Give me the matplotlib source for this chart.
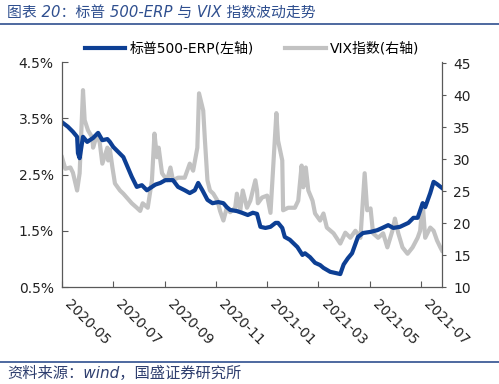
import matplotlib
matplotlib.use("Agg")
import matplotlib.pyplot as plt
import matplotlib.dates as mdates
import pandas as pd
from matplotlib.lines import Line2D

plt.rcParams["font.family"] = ["DejaVu Sans", "Noto Sans CJK SC"]

# S&P 500 ERP (%), left axis
erp_dates = [
    "2020-05-17", "2020-05-24", "2020-05-30", "2020-06-04", "2020-06-05", "2020-06-07",
    "2020-06-11", "2020-06-16", "2020-06-23", "2020-06-29", "2020-07-04", "2020-07-10",
    "2020-07-13", "2020-07-17", "2020-07-23", "2020-07-29", "2020-08-02", "2020-08-08",
    "2020-08-14", "2020-08-20", "2020-08-26", "2020-08-30", "2020-09-05", "2020-09-11",
    "2020-09-17", "2020-09-26", "2020-10-02", "2020-10-10", "2020-10-16", "2020-10-22",
    "2020-10-26", "2020-10-31", "2020-11-06", "2020-11-12", "2020-11-19", "2020-11-25",
    "2020-11-29", "2020-12-03", "2020-12-11", "2020-12-17", "2020-12-24", "2020-12-30",
    "2021-01-04", "2021-01-08", "2021-01-14", "2021-01-20", "2021-01-26", "2021-01-29",
    "2021-02-03", "2021-02-06", "2021-02-12", "2021-02-21", "2021-02-27", "2021-03-02",
    "2021-03-08", "2021-03-14", "2021-03-20", "2021-03-24", "2021-04-01", "2021-04-07",
    "2021-04-13", "2021-04-17", "2021-04-22", "2021-04-27", "2021-05-04", "2021-05-10",
    "2021-05-19", "2021-05-27", "2021-06-02", "2021-06-09", "2021-06-15", "2021-06-23",
    "2021-07-03", "2021-07-09", "2021-07-14", "2021-07-20", "2021-07-23", "2021-07-29",
    "2021-08-02", "2021-08-06", "2021-08-12",
]
erp_values = [
    3.43, 3.35, 3.26, 3.17, 2.88, 2.79,
    3.17, 3.08, 3.15, 3.24, 3.11, 3.13,
    3.08, 2.99, 2.90, 2.81, 2.67, 2.46,
    2.28, 2.31, 2.22, 2.26, 2.32, 2.35,
    2.40, 2.40, 2.28, 2.22, 2.17, 2.22,
    2.35, 2.22, 2.05, 1.99, 2.01, 1.99,
    1.92, 1.87, 1.85, 1.82, 1.78, 1.82,
    1.80, 1.57, 1.55, 1.57, 1.64, 1.64,
    1.55, 1.39, 1.34, 1.21, 1.07, 1.10,
    1.03, 0.93, 0.89, 0.84, 0.77, 0.75,
    0.73, 0.90, 1.01, 1.10, 1.39, 1.46,
    1.48, 1.51, 1.55, 1.60, 1.55, 1.57,
    1.64, 1.73, 1.73, 1.99, 1.92, 2.17,
    2.37, 2.33, 2.26,
]

# VIX index, right axis
vix_dates = [
    "2020-05-17", "2020-05-21", "2020-05-27", "2020-05-30", "2020-06-04", "2020-06-07",
    "2020-06-11", "2020-06-13", "2020-06-17", "2020-06-22", "2020-06-23", "2020-06-28",
    "2020-07-01", "2020-07-04", "2020-07-10", "2020-07-11", "2020-07-13", "2020-07-16",
    "2020-07-19", "2020-07-25", "2020-07-29", "2020-08-02", "2020-08-08", "2020-08-14",
    "2020-08-18", "2020-08-21", "2020-08-27", "2020-09-01", "2020-09-04", "2020-09-07",
    "2020-09-09", "2020-09-13", "2020-09-19", "2020-09-23", "2020-09-26", "2020-10-02",
    "2020-10-10", "2020-10-16", "2020-10-20", "2020-10-25", "2020-10-27", "2020-11-01",
    "2020-11-03", "2020-11-06", "2020-11-09", "2020-11-13", "2020-11-18", "2020-11-21",
    "2020-11-25", "2020-11-29", "2020-12-03", "2020-12-09", "2020-12-11", "2020-12-15",
    "2020-12-18", "2020-12-23", "2020-12-27", "2021-01-02", "2021-01-04", "2021-01-05",
    "2021-01-10", "2021-01-16", "2021-01-20", "2021-01-27", "2021-01-29", "2021-02-03",
    "2021-02-04", "2021-02-10", "2021-02-18", "2021-02-22", "2021-02-26", "2021-02-28",
    "2021-03-03", "2021-03-06", "2021-03-11", "2021-03-14", "2021-03-20", "2021-03-24",
    "2021-03-28", "2021-04-05", "2021-04-13", "2021-04-19", "2021-04-25", "2021-05-01",
    "2021-05-07", "2021-05-12", "2021-05-15", "2021-05-19", "2021-05-22", "2021-05-28",
    "2021-06-03", "2021-06-08", "2021-06-14", "2021-06-17", "2021-06-21", "2021-06-26",
    "2021-07-02", "2021-07-08", "2021-07-14", "2021-07-17", "2021-07-20", "2021-07-23",
    "2021-07-29", "2021-08-02", "2021-08-06", "2021-08-10", "2021-08-12",
]
vix_values = [
    30.3, 28.5, 28.7, 27.9, 25.1, 27.8,
    40.8, 36.1, 34.5, 33.4, 31.8, 34.0,
    32.5, 29.3, 31.8, 29.8, 31.5, 28.7,
    26.2, 25.1, 24.6, 24.0, 23.1, 22.4,
    21.9, 23.1, 22.4, 26.7, 34.0, 30.3,
    31.8, 27.8, 26.7, 28.7, 26.7, 27.1,
    27.1, 29.3, 28.2, 31.8, 40.3, 37.6,
    33.0, 26.7, 25.1, 24.6, 23.5, 21.9,
    20.4, 22.4, 21.7, 22.4, 24.6, 21.9,
    25.1, 22.4, 23.5, 26.7, 25.1, 23.1,
    24.0, 24.3, 21.6, 37.2, 32.9, 29.8,
    22.0, 22.4, 22.4, 23.5, 29.0, 25.6,
    28.7, 25.1, 23.5, 21.5, 20.4, 21.5,
    19.3, 18.4, 16.8, 18.5, 17.7, 18.8,
    17.7, 27.8, 22.0, 22.3, 18.4, 17.7,
    18.4, 16.2, 18.8, 20.7, 18.4, 16.2,
    15.2, 16.2, 17.7, 18.8, 23.1, 17.7,
    19.3, 18.8, 17.3, 16.2, 15.7,
]

tick_dates = ["2020-05-17", "2020-07-17", "2020-09-16", "2020-11-16",
              "2021-01-16", "2021-03-18", "2021-05-18", "2021-07-18"]

title_text = "图表 20：标普 500-ERP 与 VIX 指数波动走势"
source_text = "资料来源：wind，国盛证券研究所"
erp_label = "标普500-ERP(左轴)"
vix_label = "VIX指数(右轴)"

blue = "#0d3f94"
grey = "#c2c2c2"
axis_color = "#595959"
head_color = "#2f4f8f"

erp_x = pd.to_datetime(erp_dates)
vix_x = pd.to_datetime(vix_dates)

fig = plt.figure(figsize=(4.99, 3.84), dpi=100)
ax = fig.add_axes([0.1242, 0.2526, 0.7616, 0.5859])
ax2 = ax.twinx()

ax2.plot(vix_x, vix_values, color=grey, lw=3, solid_joinstyle="round")
ax.plot(erp_x, erp_values, color=blue, lw=3, solid_joinstyle="round")
ax.set_zorder(ax2.get_zorder() + 1)
ax.patch.set_visible(False)

ax.set_xlim(pd.Timestamp("2020-05-17"), pd.Timestamp("2021-08-12"))
ax.set_ylim(0.5, 4.5)
ax.set_yticks([0.5, 1.5, 2.5, 3.5, 4.5])
ax.set_yticklabels([f"{v:.1f}%" for v in [0.5, 1.5, 2.5, 3.5, 4.5]])
ax2.set_ylim(10, 45.2)
ax2.set_yticks(range(10, 50, 5))

ax.set_xticks(pd.to_datetime(tick_dates))
ax.xaxis.set_major_formatter(mdates.DateFormatter("%Y-%m"))
for lbl in ax.get_xticklabels():
    lbl.set_rotation(-45)
    lbl.set_ha("left")
    lbl.set_va("top")

for a in (ax, ax2):
    a.spines["top"].set_visible(False)
    for s in ("left", "right", "bottom"):
        a.spines[s].set_color(axis_color)
        a.spines[s].set_linewidth(0.9)
ax.spines["right"].set_visible(False)
ax2.spines["left"].set_visible(False)
ax2.spines["bottom"].set_visible(False)

ax.tick_params(axis="y", direction="in", length=4, color=axis_color,
               labelsize=10, pad=6, labelcolor="#222222")
ax.tick_params(axis="x", direction="in", length=4, color=axis_color,
               labelsize=10, pad=7, labelcolor="#222222")
ax2.tick_params(axis="y", direction="out", length=3, color=axis_color,
                labelsize=10, pad=5, labelcolor="#222222")

handles = [Line2D([], [], color=blue, lw=3), Line2D([], [], color=grey, lw=3)]
fig.legend(handles, [erp_label, vix_label], loc="center",
           bbox_to_anchor=(0.505, 0.873), ncol=2, frameon=False,
           fontsize=10, handlelength=2.9, handletextpad=0.3, columnspacing=2.3)

fig.text(0.014, 0.965, title_text, fontsize=10.7, color=head_color,
         style="italic", va="center", ha="left")
fig.add_artist(Line2D([0, 1], [0.937, 0.937], color=head_color, lw=1.2,
                      transform=fig.transFigure))
fig.add_artist(Line2D([0, 1], [0.057, 0.057], color=head_color, lw=1.2,
                      transform=fig.transFigure))
fig.text(0.014, 0.027, source_text, fontsize=11, color="#2f3f6f",
         style="italic", va="center", ha="left")

fig.savefig("out.png", dpi=100)
